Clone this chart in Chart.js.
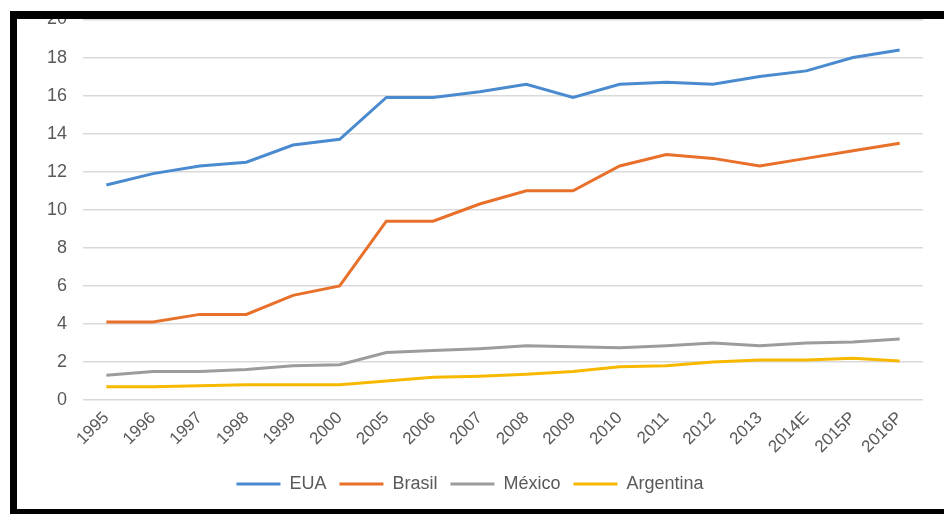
<!DOCTYPE html>
<html>
<head>
<meta charset="utf-8">
<script src="https://cdn.jsdelivr.net/npm/chart.js@4/dist/chart.umd.min.js"></script>
<style>
  html, body { margin: 0; padding: 0; background: #fff; width: 944px; height: 514px; overflow: hidden; }
  #wrap { position: relative; width: 944px; height: 514px; }
  #c { position: absolute; left: 0; top: 0; }
  .bar { position: absolute; background: #000; z-index: 5; }
</style>
</head>
<body>
<div id="wrap">
  <canvas id="c" width="944" height="509"></canvas>
  <div class="bar" style="left:10px;top:11px;width:934px;height:8px;"></div>
  <div class="bar" style="left:10px;top:11px;width:7px;height:503px;"></div>
  <div class="bar" style="left:10px;top:509px;width:934px;height:5px;"></div>
</div>
<script>
const categories = ['1995','1996','1997','1998','1999','2000','2005','2006','2007','2008','2009','2010','2011','2012','2013','2014E','2015P','2016P'];
const eua       = [11.3, 11.9, 12.3, 12.5, 13.4, 13.7, 15.9, 15.9, 16.2, 16.6, 15.9, 16.6, 16.7, 16.6, 17.0, 17.3, 18.0, 18.4];
const brasil    = [4.1, 4.1, 4.5, 4.5, 5.5, 6.0, 9.4, 9.4, 10.3, 11.0, 11.0, 12.3, 12.9, 12.7, 12.3, 12.7, 13.1, 13.5];
const mexico    = [1.3, 1.5, 1.5, 1.6, 1.8, 1.85, 2.5, 2.6, 2.7, 2.85, 2.8, 2.75, 2.85, 3.0, 2.85, 3.0, 3.05, 3.2];
const argentina = [0.7, 0.7, 0.75, 0.8, 0.8, 0.8, 1.0, 1.2, 1.25, 1.35, 1.5, 1.75, 1.8, 2.0, 2.1, 2.1, 2.2, 2.05];
const seriesNames = ['EUA', 'Brasil', 'México', 'Argentina'];
const yTicks = [0, 2, 4, 6, 8, 10, 12, 14, 16, 18, 20];

const colors = ['#4a8bd0', '#e8702a', '#9c9c9c', '#f7b900'];
const allSeries = [eua, brasil, mexico, argentina];

const FONT = "'Liberation Sans', Arial, sans-serif";

new Chart(document.getElementById('c'), {
  type: 'line',
  data: {
    labels: categories,
    datasets: allSeries.map((d, i) => ({
      label: seriesNames[i],
      data: d,
      borderColor: colors[i],
      backgroundColor: colors[i],
      borderWidth: 3,
      pointRadius: 0,
      tension: 0,
      fill: false
    }))
  },
  options: {
    responsive: false,
    devicePixelRatio: 1,
    animation: false,
    layout: { padding: { left: 17, top: 19.5, right: 21, bottom: 6 } },
    plugins: {
      tooltip: { enabled: false },
      legend: {
        position: 'bottom',
        labels: {
          boxWidth: 44,
          boxHeight: 3,
          padding: 13,
          color: '#595959',
          font: { family: FONT, size: 18 },
          generateLabels: (chart) => Chart.defaults.plugins.legend.labels.generateLabels(chart).map(l => ({ ...l, fillStyle: l.strokeStyle, lineWidth: 0 }))
        }
      }
    },
    scales: {
      x: {
        offset: true,
        grid: { display: false, drawTicks: false },
        border: { display: false },
        ticks: {
          autoSkip: false,
          maxRotation: 45,
          minRotation: 45,
          padding: 8,
          color: '#595959',
          font: { family: FONT, size: 17 }
        },
        afterFit: (s) => { s.height = 62; s.paddingLeft = 0; s.paddingRight = 0; }
      },
      y: {
        min: 0,
        max: 20,
        afterBuildTicks: (s) => { s.ticks = yTicks.map(v => ({ value: v })); },
        grid: { color: '#d9d9d9', lineWidth: 1.5, drawTicks: false },
        border: { display: false },
        ticks: {
          padding: 16,
          color: '#595959',
          font: { family: FONT, size: 18 }
        },
        afterFit: (s) => { s.width = 66; s.paddingTop = 0; s.paddingBottom = 0; }
      }
    }
  }
});
</script>
</body>
</html>
